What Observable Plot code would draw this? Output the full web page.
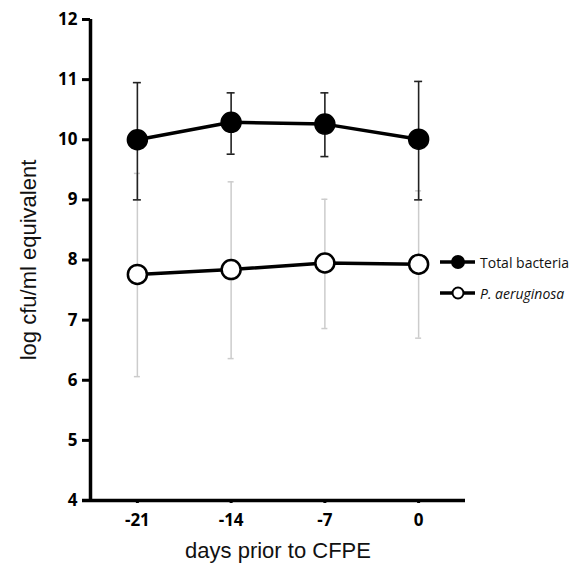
<!DOCTYPE html>
<html><head><meta charset="utf-8">
<script src="https://cdn.jsdelivr.net/npm/d3@7"></script>
<script src="https://cdn.jsdelivr.net/npm/@observablehq/plot@0.6"></script>
<style>
body{margin:0;background:#fff;}
#wrap{position:relative;width:582px;height:569px;}
.leg{position:absolute;left:438px;font-family:"Open Sans",sans-serif;font-size:14px;color:#111;display:flex;align-items:center;white-space:nowrap;}
.leg svg{margin-right:2px;}
</style>
</head><body>
<div id="wrap"></div>
<script>
const days = [-21, -14, -7, 0];
const totalMean = [10.0, 10.29, 10.26, 10.01];
const totalLow = [9.0, 9.76, 9.72, 9.0];
const totalHigh = [10.95, 10.78, 10.78, 10.97];
const paMean = [7.76, 7.84, 7.95, 7.93];
const paLow = [6.06, 6.36, 6.86, 6.70];
const paHigh = [9.44, 9.30, 9.01, 9.15];
const yTicks = [4, 5, 6, 7, 8, 9, 10, 11, 12];
const seriesNames = ["Total bacteria", "P. aeruginosa"];

const total = days.map((d, i) => ({day: d, mean: totalMean[i], lo: totalLow[i], hi: totalHigh[i]}));
const pa = days.map((d, i) => ({day: d, mean: paMean[i], lo: paLow[i], hi: paHigh[i]}));
const xDomain = [-24.5, 3.5];
const yDomain = [4, 12];

const chart = Plot.plot({
  width: 582, height: 569,
  marginLeft: 90, marginRight: 117, marginTop: 19, marginBottom: 69,
  x: {domain: xDomain},
  y: {domain: yDomain},
  style: {fontFamily: "'Open Sans', sans-serif", background: "white", color: "black"},
  marks: [
    Plot.ruleX(pa, {x: "day", y1: "lo", y2: "hi", stroke: "#cccccc", strokeWidth: 1.5}),
    Plot.ruleY(pa, {x1: "day", x2: "day", y: "lo", stroke: "#cccccc", strokeWidth: 1.5, insetLeft: -3, insetRight: -3}),
    Plot.ruleY(pa, {x1: "day", x2: "day", y: "hi", stroke: "#cccccc", strokeWidth: 1.5, insetLeft: -3, insetRight: -3}),
    Plot.ruleX(total, {x: "day", y1: "lo", y2: "hi", stroke: "#222", strokeWidth: 1.6}),
    Plot.ruleY(total, {x1: "day", x2: "day", y: "lo", stroke: "#222", strokeWidth: 1.6, insetLeft: -4, insetRight: -4}),
    Plot.ruleY(total, {x1: "day", x2: "day", y: "hi", stroke: "#222", strokeWidth: 1.6, insetLeft: -4, insetRight: -4}),
    Plot.line(total, {x: "day", y: "mean", stroke: "black", strokeWidth: 3.5}),
    Plot.line(pa, {x: "day", y: "mean", stroke: "black", strokeWidth: 3.5}),
    Plot.dot(total, {x: "day", y: "mean", r: 10, fill: "black", stroke: "black"}),
    Plot.dot(pa, {x: "day", y: "mean", r: 9.5, fill: "white", stroke: "black", strokeWidth: 2.5}),
    Plot.axisY({ticks: yTicks, tickSize: 8, tickPadding: 5, tickFormat: d => String(d), fontWeight: "bold", fontSize: 17, strokeWidth: 3, label: null}),
    Plot.axisX({ticks: days, tickSize: 3, tickPadding: 10, tickFormat: d => String(d), fontWeight: "bold", fontSize: 17, strokeWidth: 3, label: null}),
    Plot.ruleX([xDomain[0]], {stroke: "black", strokeWidth: 3.5}),
    Plot.ruleY([yDomain[0]], {stroke: "black", strokeWidth: 3.5, insetLeft: -8}),
    Plot.text(["log cfu/ml equivalent"], {frameAnchor: "left", textAnchor: "middle", rotate: -90, dx: -62, fontSize: 22, fontFamily: "'Liberation Sans', Arial, sans-serif", fill: "#111"}),
    Plot.text(["days prior to CFPE"], {frameAnchor: "bottom", textAnchor: "middle", dy: 57, fontSize: 22, fontFamily: "'Liberation Sans', Arial, sans-serif", fill: "#111"})
  ]
});
const wrap = document.getElementById("wrap");
wrap.appendChild(chart);

function legendItem(name, filled, top, italic) {
  const div = document.createElement("div");
  div.className = "leg";
  div.style.top = (top - 12) + "px";
  div.innerHTML = `<svg width="40" height="24"><line x1="2" y1="12" x2="37" y2="12" stroke="black" stroke-width="3.5"/><circle cx="20" cy="12" r="${filled ? 6 : 5.5}" fill="${filled ? "black" : "white"}" stroke="black" stroke-width="2"/></svg><span style="${italic ? "font-style:italic" : ""}">${name}</span>`;
  wrap.appendChild(div);
}
legendItem(seriesNames[0], true, 262, false);
legendItem(seriesNames[1], false, 293, true);
</script>
</body></html>
